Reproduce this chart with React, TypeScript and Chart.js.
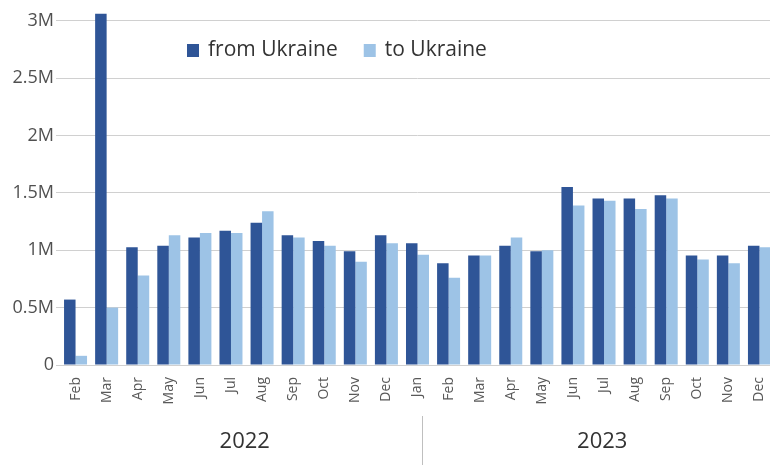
import React, { useEffect, useRef } from "react";
import { Chart, registerables } from "chart.js";

Chart.register(...registerables);

const months = [
  "Feb", "Mar", "Apr", "May", "Jun", "Jul", "Aug", "Sep", "Oct", "Nov", "Dec",
  "Jan", "Feb", "Mar", "Apr", "May", "Jun", "Jul", "Aug", "Sep", "Oct", "Nov", "Dec",
];
const years = ["2022", "2023"];
const yearStartIndex = [0, 11];

const fromUkraine = [
  570000, 3060000, 1025000, 1040000, 1110000, 1170000, 1240000, 1130000, 1080000, 990000, 1130000,
  1060000, 886000, 955000, 1040000, 990000, 1550000, 1450000, 1450000, 1480000, 955000, 955000, 1040000,
];
const toUkraine = [
  80000, 500000, 780000, 1130000, 1150000, 1150000, 1340000, 1110000, 1040000, 900000, 1060000,
  960000, 760000, 955000, 1110000, 1000000, 1390000, 1430000, 1360000, 1450000, 920000, 886000, 1025000,
];
const yTickValues = [0, 500000, 1000000, 1500000, 2000000, 2500000, 3000000];

const seriesNames = ["from Ukraine", "to Ukraine"];
const DARK = "#2f5597";
const LIGHT = "#9dc3e6";
const FONT = "'Open Sans', 'DejaVu Sans', sans-serif";

const overlayPlugin = {
  id: "overlay",
  afterDraw(chart: any) {
    const ctx = chart.ctx;
    const area = chart.chartArea;
    const xs = chart.scales.x;
    ctx.save();
    // legend
    ctx.font = `21px ${FONT}`;
    ctx.textBaseline = "middle";
    ctx.textAlign = "left";
    let lx = area.left + 127;
    const ly = 50;
    const colors = [DARK, LIGHT];
    seriesNames.forEach((name, i) => {
      ctx.fillStyle = colors[i];
      ctx.fillRect(lx, ly - 6, 12, 13);
      ctx.fillStyle = "#333333";
      ctx.fillText(name, lx + 21, ly);
      lx += 21 + ctx.measureText(name).width + 26;
    });
    // year groups
    const sepX = xs.getPixelForValue(yearStartIndex[1]) + 4;
    ctx.strokeStyle = "#bfbfbf";
    ctx.lineWidth = 1;
    ctx.beginPath();
    ctx.moveTo(Math.round(sepX) + 0.5, 416);
    ctx.lineTo(Math.round(sepX) + 0.5, chart.height);
    ctx.stroke();
    ctx.font = `22px ${FONT}`;
    ctx.textAlign = "center";
    ctx.fillStyle = "#333333";
    const bounds = [area.left, sepX, area.right];
    years.forEach((y, i) => {
      const cx = (bounds[i] + bounds[i + 1]) / 2 + 4;
      ctx.fillText(y, cx, 442);
    });
    ctx.restore();
  },
};

export default function App() {
  const ref = useRef<HTMLCanvasElement | null>(null);
  useEffect(() => {
    if (!ref.current) return;
    const chart = new Chart(ref.current, {
      type: "bar",
      data: {
        labels: months,
        datasets: [
          { label: seriesNames[0], data: fromUkraine, backgroundColor: DARK },
          { label: seriesNames[1], data: toUkraine, backgroundColor: LIGHT },
        ],
      },
      options: {
        responsive: false,
        animation: false,
        devicePixelRatio: 1,
        layout: { padding: { top: 0, right: 1, bottom: 60, left: 0 } },
        datasets: { bar: { categoryPercentage: 0.74, barPercentage: 1.0 } },
        plugins: { legend: { display: false }, tooltip: { enabled: false } },
        scales: {
          x: {
            grid: { display: false, drawTicks: false },
            border: { display: true, color: "#d0d0d0" },
            ticks: {
              minRotation: 90,
              maxRotation: 90,
              autoSkip: false,
              padding: 12,
              color: "#595959",
              font: { family: FONT, size: 14 },
            },
            afterFit(scale: any) {
              scale.height = 40;
              scale.paddingLeft = 0;
              scale.paddingRight = 0;
            },
          },
          y: {
            min: 0,
            max: 3180000,
            border: { display: false },
            grid: { color: "#d0d0d0", tickLength: 4 },
            ticks: {
              padding: 2,
              color: "#505050",
              font: { family: FONT, size: 18 },
              callback: (v: any) => (v === 0 ? "0" : `${v / 1e6}M`),
            },
            afterBuildTicks(scale: any) {
              scale.ticks = yTickValues.map((v) => ({ value: v }));
            },
            afterFit(scale: any) {
              scale.width = 60;
              scale.paddingTop = 0;
              scale.paddingBottom = 0;
            },
          },
        },
      },
      plugins: [overlayPlugin],
    });
    return () => chart.destroy();
  }, []);
  return (
    <div style={{ position: "absolute", left: 0, top: 0, width: 770, height: 465, overflow: "hidden", background: "#fff" }}>
      <canvas ref={ref} width={776} height={465} />
    </div>
  );
}
